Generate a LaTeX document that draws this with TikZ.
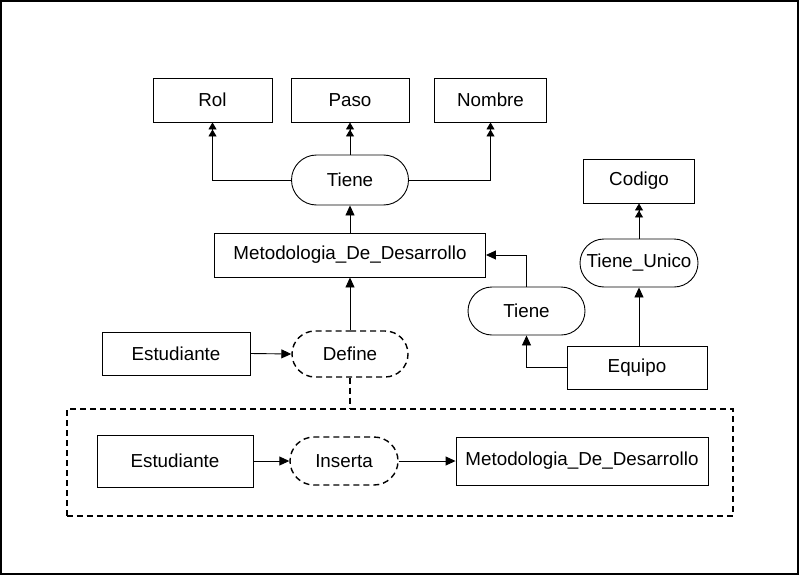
\documentclass[tikz,border=0pt]{standalone}
\usepackage{fontspec}
\setmainfont{Liberation Sans}
\usetikzlibrary{arrows.meta,shapes.misc}

\tikzset{
    entity node/.style={rectangle,draw,line width=0.9pt,inner sep=2,font=\fontsize{18.8}{22}\selectfont},
    rel node/.style={rounded rectangle,draw,line width=0.9pt,inner sep=2,font=\fontsize{18.8}{22}\selectfont},
    weak rel node/.style={rel node,line width=1.4pt,dash pattern=on 6pt off 4pt},
    frame node/.style={rectangle,draw,line width=1.4pt,dash pattern=on 6pt off 4pt},
    link/.style={line width=0.9pt,-{Triangle[length=10pt,width=9pt]}},
    double link/.style={line width=0.9pt,-{Triangle[length=7pt,width=8pt]Triangle[length=7pt,width=8pt]}},
    weak link/.style={line width=1.4pt,dash pattern=on 6pt off 4pt}
    }

\begin{document}
\begin{tikzpicture}[x=1pt,y=-1pt]
    \useasboundingbox (0,0) rectangle (799,575);
    \draw[line width=2pt] (1,1) rectangle (798,574);

    % atributos de la metodologia
    \node(rol)[entity node,minimum width=119,minimum height=44] at (212.5,100){Rol};
    \node(paso)[entity node,minimum width=118,minimum height=44] at (350,100){Paso};
    \node(nombre)[entity node,minimum width=112,minimum height=44] at (490.5,100){Nombre};
    \node(tiene1)[rel node,minimum width=121,minimum height=50] at (350,180){Tiene};
    \node(met1)[entity node,minimum width=271,minimum height=44] at (350,255){Metodologia\_De\_Desarrollo};

    % equipo
    \node(codigo)[entity node,minimum width=111,minimum height=44] at (639,181){Codigo};
    \node(unico)[rel node,minimum width=122,minimum height=48] at (639,263){Tiene\_Unico};
    \node(tiene2)[rel node,minimum width=121,minimum height=48] at (526.5,311){Tiene};
    \node(equipo)[entity node,minimum width=140,minimum height=43] at (637,367.5){Equipo};

    % estudiante define
    \node(est1)[entity node,minimum width=148,minimum height=43] at (176,353.5){Estudiante};
    \node(define)[weak rel node,minimum width=120,minimum height=46] at (350,354){Define};

    % agregacion
    \node(grupo)[frame node,minimum width=666,minimum height=107] at (400,462.5){};
    \node(est2)[entity node,minimum width=156,minimum height=52] at (175,461){Estudiante};
    \node(inserta)[weak rel node,minimum width=112,minimum height=48] at (344,461){Inserta};
    \node(met2)[entity node,minimum width=252,minimum height=48] at (582,461){Metodologia\_De\_Desarrollo};

    \draw[double link] (tiene1.west) -| (rol.south);
    \draw[double link] (tiene1.north) -- (paso.south);
    \draw[double link] (tiene1.east) -| (nombre.south);
    \draw[link] (met1.north) -- (tiene1.south);
    \draw[link] (define.north) -- (met1.south);
    \draw[link] (est1.east) -- (define.west);
    \draw[weak link] (define.south) -- (define.south |- grupo.north);
    \draw[link] (tiene2.north) |- (met1.east);
    \draw[link] (equipo.west) -| (tiene2.south);
    \draw[link] (equipo.north -| unico.south) -- (unico.south);
    \draw[double link] (unico.north) -- (codigo.south);
    \draw[link] (est2.east) -- (inserta.west);
    \draw[link] (inserta.east) -- (met2.west);
\end{tikzpicture}
\end{document}
